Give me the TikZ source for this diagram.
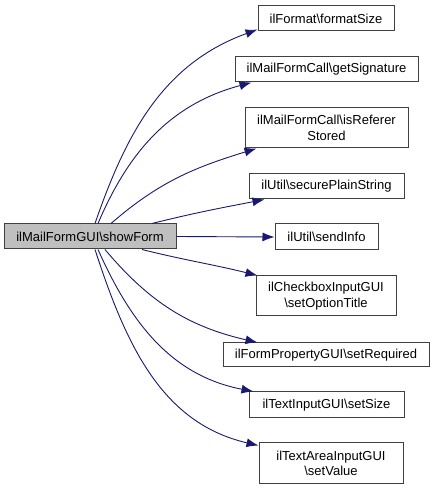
\documentclass[tikz,border=0pt]{standalone}
\usepackage{fontspec}
\setmainfont{Liberation Sans}
\usetikzlibrary{arrows.meta,positioning}
\definecolor{edgeblue}{RGB}{25,25,112}
\definecolor{boxgray}{RGB}{191,191,191}
\definecolor{lineblack}{RGB}{64,64,64}

\begin{document}
\begin{tikzpicture}[
  x=1pt, y=1pt,
  box/.style={rectangle, draw=lineblack, fill=white, align=center, inner sep=1pt, line width=1pt, font=\fontsize{13}{15.5}\selectfont},
  arr/.style={-{Latex[length=12pt,width=9pt]}, draw=edgeblue, line width=0.9pt}
]
\useasboundingbox (0,0) rectangle (435,490);

\node[box, fill=boxgray, minimum width=172pt, minimum height=25pt] (main) at (90,253.5) {ilMailFormGUI\textbackslash showForm};

\node[box, minimum width=136pt, minimum height=25pt] (fmt) at (326,471.5) {ilFormat\textbackslash formatSize};
\node[box, minimum width=183pt, minimum height=25pt] (sig) at (326.5,420.5) {ilMailFormCall\textbackslash getSignature};
\node[box, minimum width=163pt, minimum height=40pt] (isref) at (326.5,362) {ilMailFormCall\textbackslash isReferer\\Stored};
\node[box, minimum width=155pt, minimum height=25pt] (secure) at (326.5,303.5) {ilUtil\textbackslash securePlainString};
\node[box, minimum width=103pt, minimum height=26pt] (send) at (326.5,253) {ilUtil\textbackslash sendInfo};
\node[box, minimum width=140pt, minimum height=40pt] (opt) at (326,194) {ilCheckboxInputGUI\\\textbackslash setOptionTitle};
\node[box, minimum width=206pt, minimum height=24pt] (req) at (326,135) {ilFormPropertyGUI\textbackslash setRequired};
\node[box, minimum width=155pt, minimum height=26pt] (size) at (326.5,85) {ilTextInputGUI\textbackslash setSize};
\node[box, minimum width=144pt, minimum height=41pt] (val) at (331,26.5) {ilTextAreaInputGUI\\\textbackslash setValue};

% calls
\draw[arr] ([xshift=5pt]main.north) to[out=71,in=200] ([yshift=2pt]fmt.south west);
\draw[arr] ([xshift=8pt]main.north) to[out=67,in=195] ([xshift=17pt]sig.south west);
\draw[arr] ([xshift=21pt]main.north) to[out=41,in=197] ([xshift=12pt]isref.south west);
\draw[arr] ([xshift=62pt]main.north) to[out=14,in=191] ([xshift=16pt]secure.south west);
\draw[arr] (main.east) -- (send.west);
\draw[arr] ([xshift=52pt]main.south) to[out=-14,in=166] ([xshift=2pt]opt.north west);
\draw[arr] ([xshift=15pt]main.south) to[out=-50,in=167] ([xshift=35pt]req.north west);
\draw[arr] ([xshift=8pt]main.south) to[out=-66,in=169] ([xshift=5pt]size.north west);
\draw[arr] ([xshift=5pt]main.south) to[out=-72,in=167] ([yshift=-3pt]val.north west);
\end{tikzpicture}
\end{document}
